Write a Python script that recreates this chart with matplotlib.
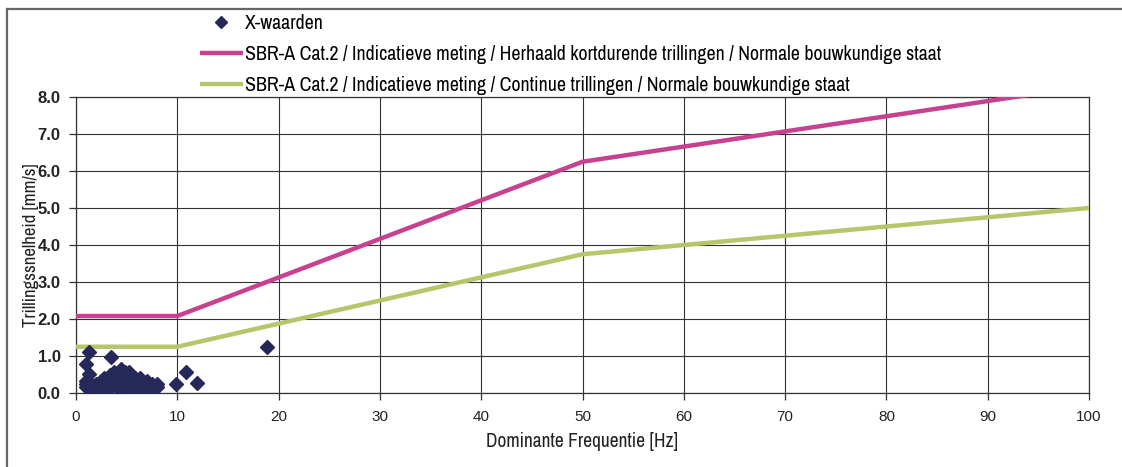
import matplotlib
matplotlib.use("Agg")
import matplotlib.pyplot as plt
from matplotlib import font_manager
from matplotlib.lines import Line2D

names = sorted({f.name for f in font_manager.fontManager.ttflist})
cands = [n for n in names if "Narrow" in n] + [n for n in names if "Condensed" in n]
NARROW = cands[0] if cands else "Roboto"
REG = "Liberation Sans"
plt.rcParams['font.family'] = [NARROW, 'DejaVu Sans']

# Data
freq_points = [1.0, 1.5, 2.0, 2.5, 3.0, 3.5, 4.0, 4.5, 5.0, 5.5, 6.0, 6.5, 7.0, 7.5, 8.0,
               1.0, 1.5, 2.0, 2.5, 3.0, 3.5, 4.0, 4.5, 5.0, 5.5, 6.0, 6.5, 7.0, 7.5, 8.0,
               1.0, 2.5, 3.0, 3.5, 4.0, 4.5, 5.0, 5.5, 6.0, 6.5, 7.0,
               2.8, 3.3, 3.8, 4.3, 4.8, 5.3, 5.8, 6.3,
               3.4, 3.9, 4.4, 4.9, 5.4,
               3.8, 4.3, 4.8, 5.2,
               4.4,
               0.95, 1.3, 1.3, 3.5, 9.9, 10.9, 11.9, 18.9]
vel_points = [0.17] * 15 + [0.25] * 15 + [0.33] * 11 + [0.41] * 8 + [0.50] * 5 + [0.58] * 4 + [0.65] + \
             [0.79, 1.10, 0.52, 0.97, 0.23, 0.57, 0.28, 1.25]

limit_freq = [0, 10, 50, 100]
limit_repeated = [2.08, 2.08, 6.25, 8.30]
limit_continuous = [1.25, 1.25, 3.75, 5.00]

label_points = "X-waarden"
label_repeated = "SBR-A Cat.2 / Indicatieve meting / Herhaald kortdurende trillingen / Normale bouwkundige staat"
label_continuous = "SBR-A Cat.2 / Indicatieve meting / Continue trillingen / Normale bouwkundige staat"

x_ticks = list(range(0, 101, 10))
y_ticks = [0.0, 1.0, 2.0, 3.0, 4.0, 5.0, 6.0, 7.0, 8.0]

W, H = 1122, 467
fig = plt.figure(figsize=(W / 100, H / 100), dpi=100)
ax = fig.add_axes([76 / W, 1 - 393 / H, (1089 - 76) / W, (393 - 97) / H])

magenta = "#c8418f"
green = "#b7c66a"
navy = "#27285a"

l1, = ax.plot(limit_freq, limit_repeated, color=magenta, lw=3.2, solid_capstyle='butt', zorder=3)
l2, = ax.plot(limit_freq, limit_continuous, color=green, lw=3.2, solid_capstyle='butt', zorder=3)
sc, = ax.plot(freq_points, vel_points, ls='none', marker='D', ms=7.5, color=navy, zorder=4)

ax.set_xlim(0, 100)
ax.set_ylim(0, 8)
ax.set_xticks(x_ticks)
ax.set_yticks(y_ticks)
ax.set_xticklabels([str(t) for t in x_ticks], fontsize=11, family=[REG, 'DejaVu Sans'])
ax.set_yticklabels([f"{t:.1f}" for t in y_ticks], fontsize=12, fontweight='bold',
                   family=[REG, 'DejaVu Sans'])
ax.grid(True, color="#333333", lw=0.8)
ax.set_axisbelow(True)
for s in ax.spines.values():
    s.set_color("#333333")
    s.set_linewidth(0.9)
ax.tick_params(direction='out', length=5, width=0.9, color="#333333", labelcolor="#222222")
ax.tick_params(axis='y', pad=6)
ax.tick_params(axis='x', pad=7)

ax.set_xlabel("Dominante Frequentie [Hz]", fontsize=14, color="#222222", labelpad=6)
ax.set_ylabel("Trillingssnelheid [mm/s]", fontsize=13.5, color="#222222", fontweight='bold')
ax.yaxis.set_label_coords(-37 / 1013, 0.5)

# Legend rows
leg = fig.legend([sc, l1, l2], [label_points, label_repeated, label_continuous],
                 loc='upper left', bbox_to_anchor=(182 / W, 1 + 4 / H), frameon=False,
                 fontsize=14.3, handlelength=2.15, handletextpad=0.1, labelspacing=0.6,
                 markerscale=0.75)

# Outer frame (cropped at right and bottom)
fig.add_artist(Line2D([7 / W, 1.0], [1 - 9 / H, 1 - 9 / H], transform=fig.transFigure,
                      color="#666666", lw=1.6))
fig.add_artist(Line2D([7 / W, 7 / W], [0.0, 1 - 9 / H], transform=fig.transFigure,
                      color="#666666", lw=1.6))

fig.savefig("out.png", dpi=100)
